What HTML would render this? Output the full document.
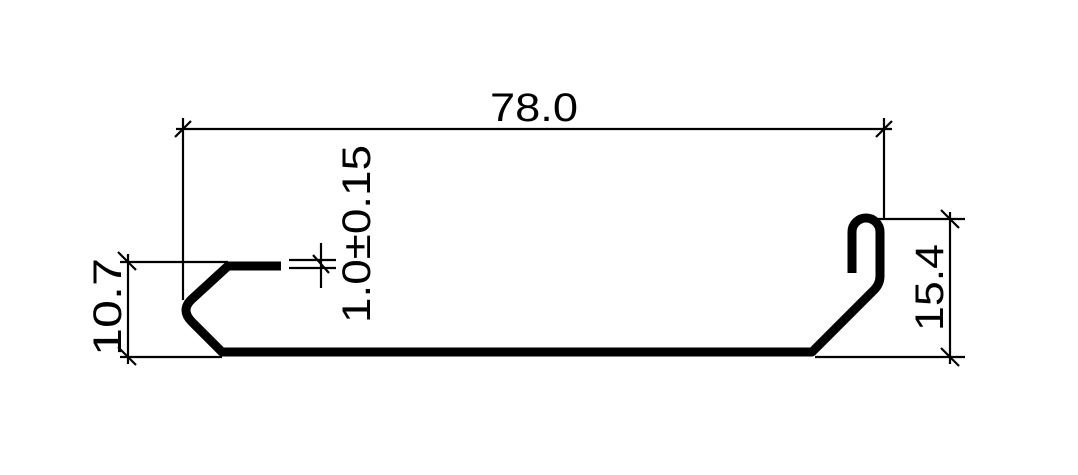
<!DOCTYPE html>
<html><head><style>html,body{margin:0;padding:0;background:#fff}svg{display:block}</style></head>
<body>
<svg width="1078" height="475" viewBox="0 0 1078 475" xmlns="http://www.w3.org/2000/svg">
<rect width="1078" height="475" fill="#fff"/>
<g fill="none" stroke="#000" stroke-width="2.2">
<line x1="176" y1="129" x2="892" y2="129"/>
<line x1="183" y1="118" x2="183" y2="300"/>
<line x1="884" y1="118" x2="884" y2="220"/>
<line x1="175" y1="137" x2="191" y2="121"/>
<line x1="876" y1="137" x2="892" y2="121"/>
<line x1="120" y1="262" x2="228" y2="262"/>
<line x1="120" y1="357" x2="222" y2="357"/>
<line x1="128" y1="254" x2="128" y2="364"/>
<line x1="118" y1="252" x2="136" y2="270"/>
<line x1="118" y1="347" x2="136" y2="365"/>
<line x1="878" y1="219" x2="965" y2="219"/>
<line x1="815" y1="357" x2="965" y2="357"/>
<line x1="950" y1="212" x2="950" y2="364"/>
<line x1="941" y1="210" x2="959" y2="228"/>
<line x1="941" y1="348" x2="959" y2="366"/>
<line x1="289" y1="260" x2="336" y2="260"/>
<line x1="289" y1="268" x2="336" y2="268"/>
<line x1="321" y1="243" x2="321" y2="288"/>
<line x1="313" y1="255" x2="329" y2="273"/>
</g>
<path d="M281 266 L228 266 L192 299 Q180 310 192 322 L222 352 L812 352 L874 290 Q880 284 880 276 L880 232 A14 14 0 0 0 852 232 L852 273" fill="none" stroke="#000" stroke-width="9" stroke-linejoin="round"/>
<g font-family="Liberation Sans, sans-serif" font-size="40" fill="#000" lengthAdjust="spacingAndGlyphs">
<text x="490" y="121" textLength="88" lengthAdjust="spacingAndGlyphs">78.0</text>
<text transform="translate(121,356) rotate(-90)" textLength="98" lengthAdjust="spacingAndGlyphs">10.7</text>
<text transform="translate(943,331) rotate(-90)" textLength="87" lengthAdjust="spacingAndGlyphs">15.4</text>
<text transform="translate(370,323) rotate(-90)" textLength="178" lengthAdjust="spacingAndGlyphs">1.0±0.15</text>
</g>
</svg>
</body></html>
